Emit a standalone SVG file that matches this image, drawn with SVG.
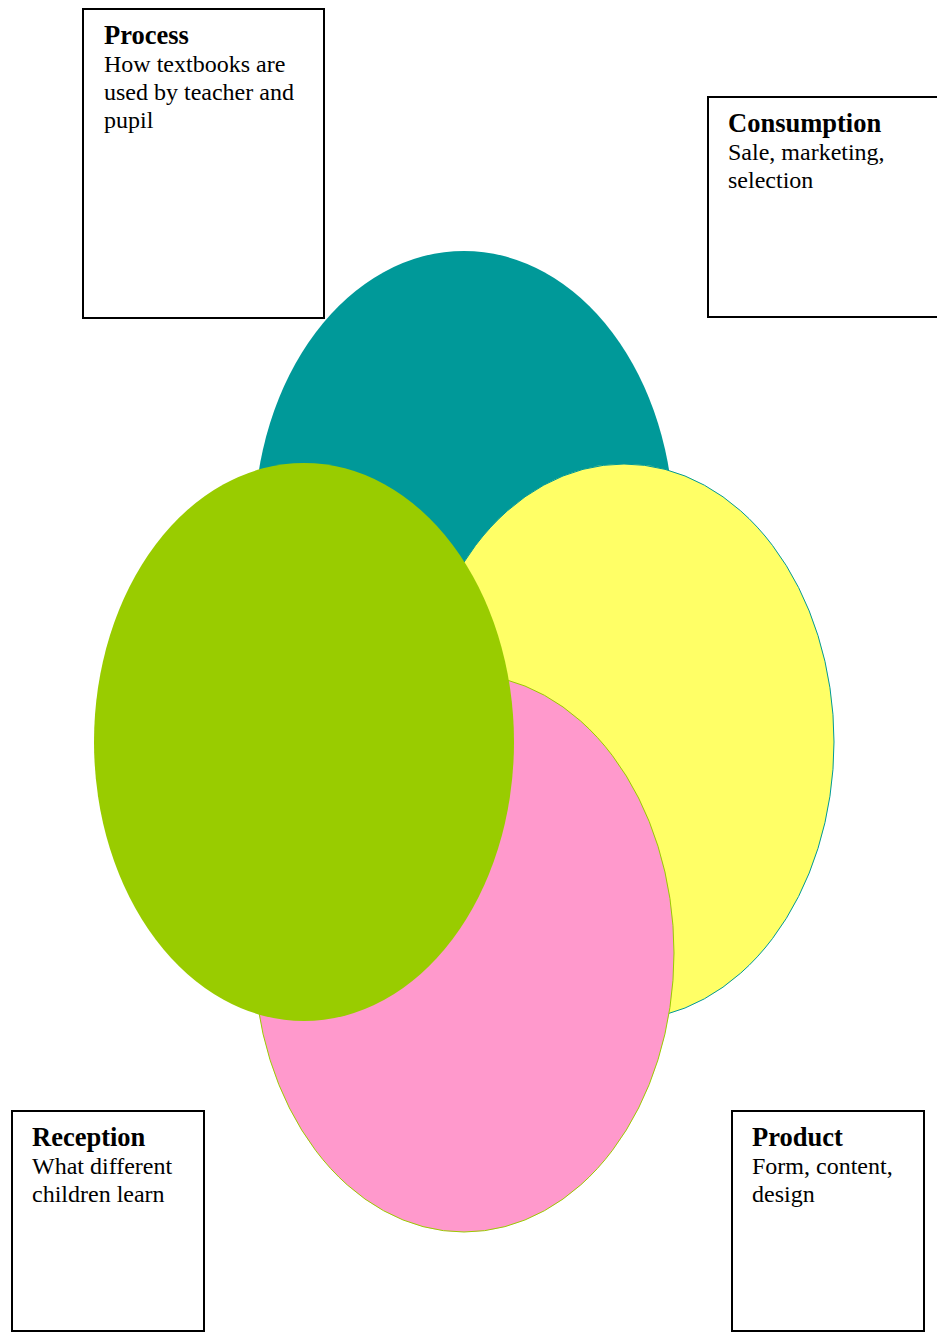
<svg xmlns="http://www.w3.org/2000/svg" width="937" height="1336" viewBox="0 0 937 1336">
<style>
.box{fill:#fff;stroke:#000;stroke-width:2}
.t{font-family:"Liberation Serif","Times New Roman",serif;font-size:24px;fill:#000}
.b{font-weight:bold;font-size:26.5px}
</style>
<rect width="937" height="1336" fill="#fff"/>
<g id="ellipses">
<ellipse id="teal" cx="464" cy="530" rx="210" ry="279" fill="#009999"/>
<ellipse id="yellow" cx="624" cy="742" rx="210" ry="278" fill="#ffff66" stroke="#009999" stroke-width="1"/>
<ellipse id="pink" cx="464" cy="953" rx="210" ry="279" fill="#ff99cc" stroke="#99cc00" stroke-width="1"/>
<ellipse id="green" cx="304" cy="742" rx="210" ry="279" fill="#99cc00"/>
</g>
<g id="process">
<rect class="box" x="83" y="9" width="241" height="309"/>
<text class="t b" x="104" y="44">Process</text>
<text class="t" x="104" y="72">How textbooks are</text>
<text class="t" x="104" y="100">used by teacher and</text>
<text class="t" x="104" y="128">pupil</text>
</g>
<g id="consumption">
<rect class="box" x="708" y="97" width="240" height="220"/>
<text class="t b" x="728" y="132">Consumption</text>
<text class="t" x="728" y="160">Sale, marketing,</text>
<text class="t" x="728" y="188">selection</text>
</g>
<g id="reception">
<rect class="box" x="12" y="1111" width="192" height="220"/>
<text class="t b" x="32" y="1146">Reception</text>
<text class="t" x="32" y="1174">What different</text>
<text class="t" x="32" y="1202">children learn</text>
</g>
<g id="product">
<rect class="box" x="732" y="1111" width="192" height="220"/>
<text class="t b" x="752" y="1146">Product</text>
<text class="t" x="752" y="1174">Form, content,</text>
<text class="t" x="752" y="1202">design</text>
</g>
<g id="connectors"/>
</svg>
